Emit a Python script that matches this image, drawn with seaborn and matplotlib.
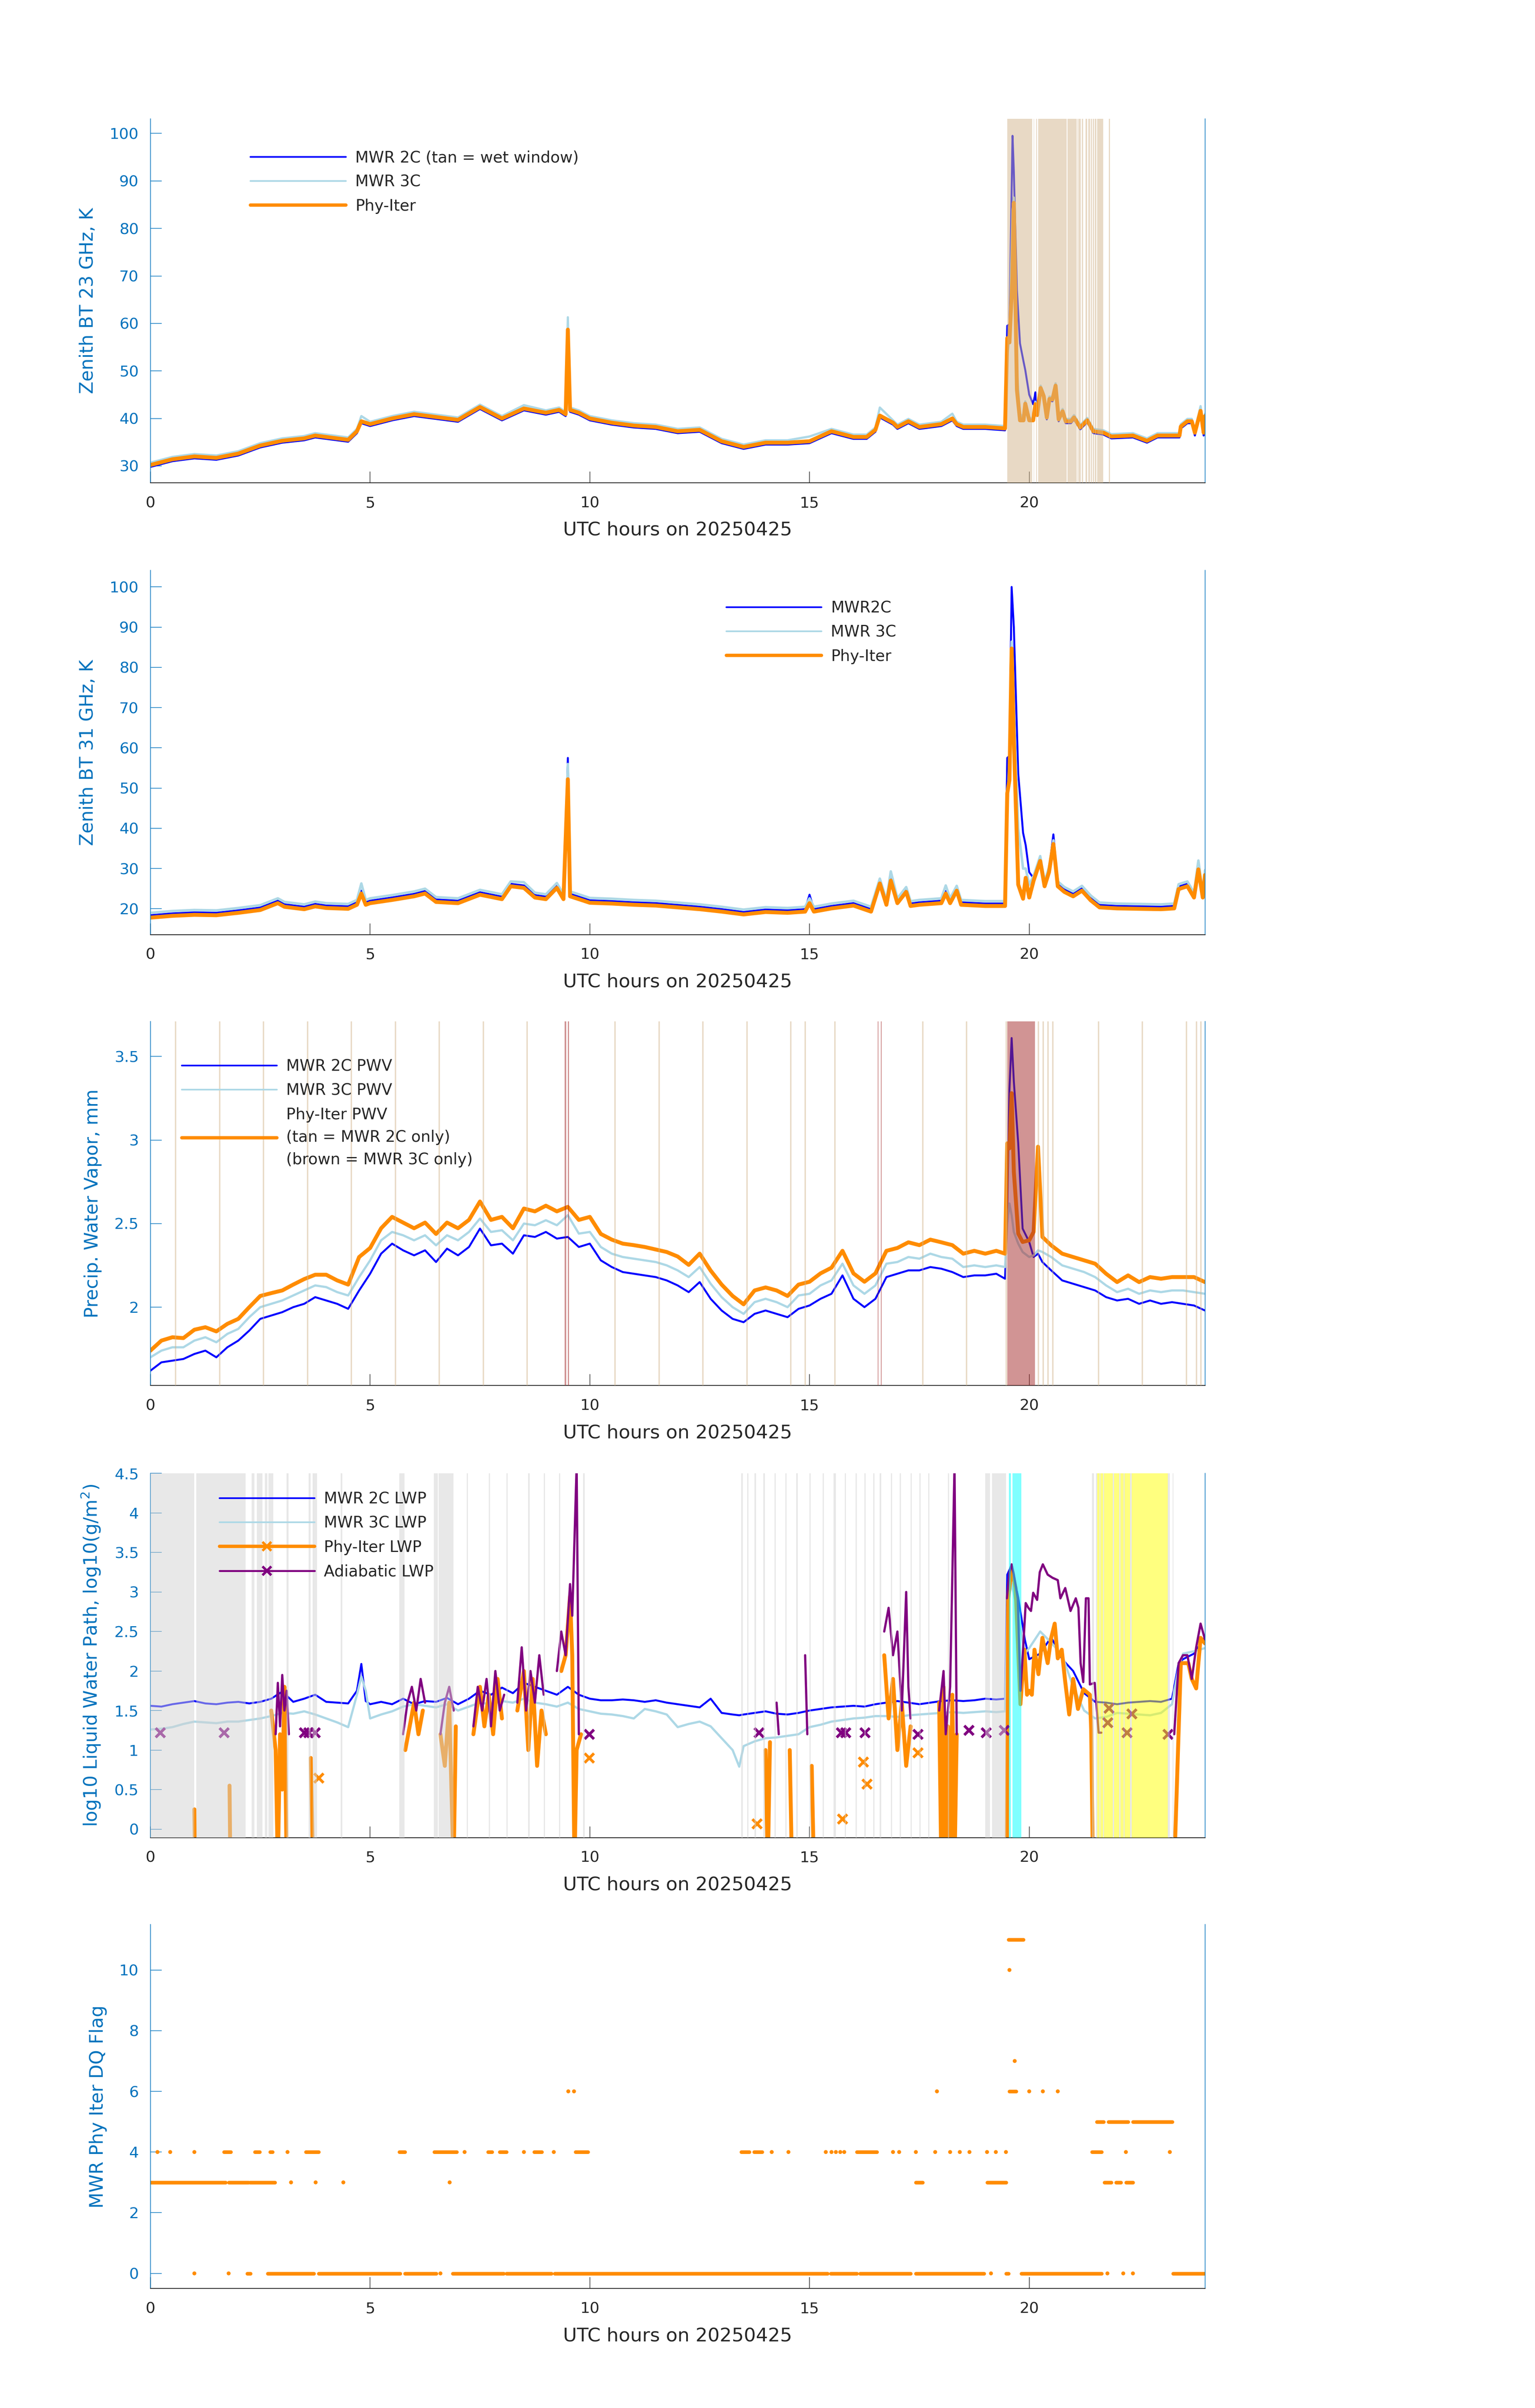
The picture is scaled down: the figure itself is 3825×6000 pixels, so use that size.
import numpy as np
import matplotlib
matplotlib.use("Agg")
import matplotlib.pyplot as plt
from matplotlib.lines import Line2D
import seaborn as sns

sns.set_theme(style="white")
plt.rcParams['font.family'] = ['DejaVu Sans']

nan = np.nan
AXBLUE = '#0072BD'
DARK = '#262626'
C2 = '#0000FF'
C3 = '#ADD8E6'
PHY = '#FF8C00'
ADI = '#800080'

# ---------------- panel 1 : BT 23 GHz ----------------
t23 = [0.0, 0.5, 1.0, 1.5, 2.0, 2.5, 3.0, 3.5, 3.75, 4.0,
       4.5, 4.7, 4.8, 5.0, 5.5, 6.0, 6.5, 7.0, 7.5, 8.0,
       8.5, 9.0, 9.3, 9.45, 9.5, 9.55, 9.75, 10.0, 10.5, 11.0,
       11.5, 12.0, 12.5, 13.0, 13.5, 14.0, 14.5, 15.0, 15.5, 16.0,
       16.3, 16.5, 16.6, 16.9, 17.0, 17.25, 17.5, 18.0, 18.25, 18.35,
       18.5, 19.0, 19.45, 19.5, 19.55, 19.62, 19.65, 19.72, 19.79, 19.87,
       19.91, 20.0, 20.09, 20.14, 20.18, 20.26, 20.33, 20.4, 20.46, 20.53,
       20.6, 20.67, 20.76, 20.83, 20.95, 21.02, 21.16, 21.32, 21.46, 21.69,
       21.87, 22.36, 22.68, 22.92, 23.31, 23.42, 23.45, 23.6, 23.7, 23.77,
       23.9, 23.97, 24.0]
phy23 = [30.2, 31.4, 32.0, 31.7, 32.6, 34.3, 35.3, 35.8, 36.4, 36.1,
         35.5, 37.3, 39.4, 38.8, 40.0, 40.9, 40.3, 39.7, 42.4, 40.0,
         42.1, 41.2, 41.8, 40.9, 58.7, 41.8, 41.2, 40.0, 39.1, 38.5,
         38.2, 37.3, 37.6, 35.2, 34.0, 34.9, 34.9, 35.2, 37.3, 36.1,
         36.1, 37.6, 40.6, 39.1, 38.2, 39.4, 38.2, 38.8, 40.0, 38.8,
         38.2, 38.2, 37.9, 56.9, 56.0, 70.0, 85.4, 46.0, 39.6, 39.6,
         43.1, 39.6, 39.6, 43.0, 40.7, 46.4, 44.7, 40.2, 44.1, 44.0,
         46.9, 39.8, 41.5, 39.4, 39.4, 40.2, 38.1, 39.6, 37.3, 37.0,
         36.2, 36.4, 35.3, 36.4, 36.4, 36.4, 38.3, 39.4, 39.4, 37.0,
         41.6, 37.0, 40.5]
c2_23 = [29.8, 31.0, 31.6, 31.3, 32.2, 33.9, 34.9, 35.4, 36.0, 35.7,
         35.1, 36.9, 39.0, 38.4, 39.6, 40.5, 39.9, 39.3, 42.0, 39.6,
         41.7, 40.8, 41.4, 40.5, 59.5, 41.4, 40.8, 39.6, 38.7, 38.1,
         37.8, 36.9, 37.2, 34.8, 33.6, 34.5, 34.5, 34.8, 36.9, 35.7,
         35.7, 37.2, 40.2, 38.7, 37.8, 39.0, 37.8, 38.4, 39.6, 38.4,
         37.8, 37.8, 37.5, 59.5, 59.8, 99.5, 92.0, 67.0, 55.8, 52.0,
         50.2, 45.0, 43.0, 45.5, 41.0, 46.8, 44.5, 39.8, 43.8, 43.6,
         47.3, 39.4, 41.1, 39.0, 39.0, 39.8, 37.7, 39.2, 36.9, 36.6,
         35.8, 36.0, 34.9, 36.0, 36.0, 36.0, 37.9, 39.0, 39.0, 36.4,
         41.2, 36.4, 40.0]
c3_23 = [30.7, 31.9, 32.5, 32.2, 33.1, 34.8, 35.8, 36.3, 36.9, 36.6,
         36.0, 37.8, 40.5, 39.3, 40.5, 41.4, 40.8, 40.2, 42.9, 40.5,
         42.8, 41.7, 42.3, 41.4, 61.3, 42.3, 41.7, 40.5, 39.6, 39.0,
         38.7, 37.8, 38.1, 35.7, 34.5, 35.4, 35.4, 36.2, 37.8, 36.6,
         36.6, 38.1, 42.3, 39.6, 38.7, 39.9, 38.7, 39.3, 41.0, 39.3,
         38.7, 38.7, 38.4, 53.0, 57.0, 84.0, 86.5, 50.0, 41.0, 40.0,
         43.6, 40.1, 40.1, 43.5, 41.2, 46.9, 45.2, 40.7, 44.6, 44.5,
         47.4, 40.3, 42.0, 39.9, 39.9, 40.7, 38.6, 40.1, 37.8, 37.5,
         36.7, 36.9, 35.8, 36.9, 36.9, 36.9, 38.8, 39.9, 39.9, 37.5,
         42.6, 37.5, 41.0]
wet_start = [19.50, 20.10, 20.16, 20.20, 20.87, 21.10, 21.13, 21.20, 21.28, 21.35, 21.40, 21.45, 21.49, 21.55, 21.81]
wet_end = [20.07, 20.115, 20.18, 20.855, 21.08, 21.115, 21.17, 21.23, 21.32, 21.38, 21.43, 21.47, 21.53, 21.68, 21.84]

# ---------------- panel 2 : BT 31 GHz ----------------
t31 = [0.0, 0.5, 1.0, 1.5, 2.0, 2.5, 2.9, 3.05, 3.5, 3.75,
       4.0, 4.5, 4.7, 4.8, 4.9, 5.0, 5.5, 6.0, 6.25, 6.5,
       7.0, 7.5, 8.0, 8.2, 8.5, 8.75, 9.0, 9.25, 9.4, 9.5,
       9.55, 9.75, 10.0, 10.5, 11.0, 11.5, 12.0, 12.5, 13.0, 13.5,
       14.0, 14.5, 14.9, 15.0, 15.1, 15.5, 16.0, 16.4, 16.6, 16.75,
       16.85, 17.0, 17.2, 17.3, 17.5, 18.0, 18.1, 18.2, 18.35, 18.45,
       19.0, 19.45, 19.5, 19.55, 19.6, 19.65, 19.75, 19.86, 19.92, 20.0,
       20.1, 20.25, 20.35, 20.45, 20.55, 20.65, 20.8, 21.0, 21.2, 21.4,
       21.6, 22.0, 22.5, 23.0, 23.3, 23.4, 23.6, 23.75, 23.85, 23.95,
       24.0]
phy31 = [17.8, 18.25, 18.5, 18.4, 19.0, 19.7, 21.4, 20.5, 19.9, 20.6,
         20.2, 20.0, 21.0, 23.8, 21.0, 21.4, 22.2, 23.1, 23.8, 21.7,
         21.4, 23.5, 22.4, 25.6, 25.2, 22.8, 22.4, 25.2, 22.4, 52.2,
         23.1, 22.4, 21.5, 21.3, 21.0, 20.8, 20.35, 19.9, 19.3, 18.6,
         19.2, 19.0, 19.3, 21.4, 19.3, 20.1, 20.8, 19.3, 26.3, 21.0,
         27.0, 21.4, 24.2, 20.7, 21.0, 21.4, 23.8, 21.4, 24.5, 21.0,
         20.7, 20.7, 48.7, 52.0, 84.7, 62.0, 26.0, 22.5, 27.7, 22.8,
         27.0, 31.9, 25.6, 29.1, 36.1, 25.6, 24.2, 23.1, 24.5, 22.1,
         20.35, 20.1, 20.0, 19.9, 20.1, 24.9, 25.6, 22.8, 29.8, 22.8,
         28.4]
c2_31 = [18.4, 18.85, 19.1, 19.0, 19.6, 20.3, 22.0, 21.1, 20.5, 21.2,
         20.8, 20.6, 21.6, 24.5, 21.6, 22.0, 22.8, 23.7, 24.4, 22.3,
         22.0, 24.1, 23.0, 26.2, 25.8, 23.4, 23.0, 25.8, 23.0, 57.5,
         23.7, 23.0, 22.1, 21.9, 21.6, 21.4, 20.95, 20.5, 19.9, 19.2,
         19.8, 19.6, 19.9, 23.5, 19.9, 20.7, 21.4, 19.9, 26.9, 21.6,
         27.6, 22.0, 24.8, 21.3, 21.6, 22.0, 24.4, 22.0, 25.1, 21.6,
         21.3, 21.3, 57.5, 58.0, 100.0, 90.0, 53.6, 38.9, 35.8, 29.1,
         27.6, 32.5, 26.2, 29.7, 38.5, 26.2, 24.8, 23.7, 25.1, 22.7,
         20.95, 20.7, 20.6, 20.5, 20.7, 25.5, 26.2, 23.4, 31.5, 23.4,
         29.0]
c3_31 = [19.0, 19.45, 19.7, 19.6, 20.2, 20.9, 22.6, 21.7, 21.1, 21.8,
         21.4, 21.2, 22.2, 26.3, 22.2, 22.6, 23.4, 24.3, 25.0, 22.9,
         22.6, 24.7, 23.6, 26.8, 26.6, 24.0, 23.6, 26.4, 23.6, 56.0,
         24.3, 23.6, 22.7, 22.5, 22.2, 22.0, 21.55, 21.1, 20.5, 19.8,
         20.4, 20.2, 20.5, 22.6, 20.5, 21.3, 22.0, 20.5, 27.5, 22.2,
         29.3, 22.6, 25.4, 21.9, 22.2, 22.6, 25.8, 22.6, 25.7, 22.2,
         21.9, 21.9, 45.0, 57.0, 86.4, 70.0, 40.0, 30.0, 30.0, 26.0,
         28.2, 33.1, 26.8, 30.3, 37.0, 26.8, 25.4, 24.3, 25.7, 23.3,
         21.55, 21.3, 21.2, 21.1, 21.3, 26.1, 26.8, 24.0, 32.0, 24.0,
         29.6]

# ---------------- panel 3 : PWV ----------------
tpwv = [0.0, 0.25, 0.5, 0.75, 1.0, 1.25, 1.5, 1.75, 2.0, 2.25,
        2.5, 2.75, 3.0, 3.25, 3.5, 3.75, 4.0, 4.25, 4.5, 4.75,
        5.0, 5.25, 5.5, 5.75, 6.0, 6.25, 6.5, 6.75, 7.0, 7.25,
        7.5, 7.75, 8.0, 8.25, 8.5, 8.75, 9.0, 9.25, 9.5, 9.75,
        10.0, 10.25, 10.5, 10.75, 11.0, 11.25, 11.5, 11.75, 12.0, 12.25,
        12.5, 12.75, 13.0, 13.25, 13.5, 13.75, 14.0, 14.25, 14.5, 14.75,
        15.0, 15.25, 15.5, 15.75, 16.0, 16.25, 16.5, 16.75, 17.0, 17.25,
        17.5, 17.75, 18.0, 18.25, 18.5, 18.75, 19.0, 19.25,
        19.45, 19.5, 19.55, 19.6, 19.65, 19.75, 19.85, 20.0, 20.1, 20.2, 20.3, 20.5,
        20.75, 21.0, 21.25, 21.5, 21.75, 22.0, 22.25, 22.5, 22.75, 23.0, 23.25, 23.5, 23.75, 24.0]
phy_pwv = [1.74, 1.80, 1.82, 1.815, 1.865, 1.88, 1.855, 1.90, 1.93, 2.00,
           2.067, 2.084, 2.10, 2.135, 2.168, 2.194, 2.194, 2.16, 2.135, 2.30,
           2.354, 2.472, 2.54, 2.506, 2.472, 2.506, 2.438, 2.506, 2.472, 2.522,
           2.632, 2.522, 2.54, 2.472, 2.59, 2.573, 2.607, 2.573, 2.60, 2.522,
           2.54, 2.438, 2.404, 2.38, 2.371, 2.36, 2.345, 2.33, 2.303, 2.253,
           2.32, 2.219, 2.135, 2.067, 2.017, 2.10, 2.118, 2.10, 2.067, 2.135,
           2.152, 2.202, 2.236, 2.337, 2.202, 2.152, 2.202, 2.337, 2.354, 2.388,
           2.371, 2.404, 2.388, 2.371, 2.32, 2.337, 2.32, 2.337,
           2.32, 2.98, 2.95, 3.28, 2.81, 2.44, 2.39, 2.40, 2.45, 2.96, 2.42, 2.37,
           2.32, 2.30, 2.28, 2.26, 2.20, 2.15, 2.19, 2.15, 2.18, 2.17, 2.18, 2.18, 2.18, 2.15]
c3_pwv = [1.70, 1.74, 1.76, 1.76, 1.80, 1.82, 1.79, 1.84, 1.87, 1.94,
          2.00, 2.02, 2.04, 2.07, 2.10, 2.13, 2.12, 2.09, 2.07, 2.18,
          2.28, 2.40, 2.45, 2.43, 2.40, 2.43, 2.37, 2.43, 2.40, 2.45,
          2.53, 2.45, 2.46, 2.40, 2.50, 2.49, 2.52, 2.49, 2.55, 2.44,
          2.45, 2.36, 2.32, 2.30, 2.29, 2.28, 2.27, 2.25, 2.22, 2.18,
          2.24, 2.14, 2.06, 2.00, 1.96, 2.03, 2.05, 2.03, 2.00, 2.07,
          2.08, 2.13, 2.16, 2.26, 2.13, 2.08, 2.13, 2.26, 2.27, 2.30,
          2.29, 2.32, 2.30, 2.29, 2.24, 2.25, 2.24, 2.25,
          2.24, 2.50, 2.62, 2.55, 2.45, 2.38, 2.33, 2.30, 2.31, 2.34, 2.33, 2.30,
          2.25, 2.23, 2.21, 2.18, 2.13, 2.09, 2.11, 2.08, 2.10, 2.09, 2.10, 2.10, 2.09, 2.08]
c2_pwv = [1.62, 1.67, 1.68, 1.69, 1.72, 1.74, 1.70, 1.76, 1.80, 1.86,
          1.93, 1.95, 1.97, 2.00, 2.02, 2.06, 2.04, 2.02, 1.99, 2.10,
          2.20, 2.32, 2.38, 2.34, 2.31, 2.34, 2.27, 2.35, 2.31, 2.36,
          2.47, 2.37, 2.38, 2.32, 2.43, 2.42, 2.45, 2.41, 2.42, 2.36,
          2.38, 2.28, 2.24, 2.21, 2.20, 2.19, 2.18, 2.16, 2.13, 2.09,
          2.15, 2.05, 1.98, 1.93, 1.91, 1.96, 1.98, 1.96, 1.94, 1.99,
          2.01, 2.05, 2.08, 2.19, 2.05, 2.00, 2.05, 2.18, 2.20, 2.22,
          2.22, 2.24, 2.23, 2.21, 2.18, 2.19, 2.19, 2.20,
          2.17, 2.60, 3.30, 3.61, 3.35, 2.98, 2.47, 2.39, 2.30, 2.32, 2.27, 2.22,
          2.16, 2.14, 2.12, 2.10, 2.06, 2.04, 2.05, 2.02, 2.04, 2.02, 2.03, 2.02, 2.01, 1.98]
only2c_times = [0.57, 1.57, 2.57, 3.57, 4.57, 5.57, 6.57, 7.57, 8.57, 10.57, 11.57, 12.57, 13.57,
                14.57, 14.9, 15.57, 17.57, 18.57, 19.47, 20.2, 20.31, 20.42, 20.53, 21.57,
                22.57, 23.57, 23.8, 23.9]
only3c_start = [9.43, 9.50, 16.55, 16.62, 19.50]
only3c_end = [9.46, 9.53, 16.57, 16.64, 20.13]

# ---------------- panel 4 : LWP ----------------
tlwp = [0.0, 0.25, 0.5, 0.75, 1.0, 1.25, 1.5, 1.75, 2.0, 2.25,
        2.5, 2.75, 3.0, 3.25, 3.5, 3.75, 4.0, 4.25, 4.5, 4.7,
        4.8, 4.9, 5.0, 5.25, 5.5, 5.75, 6.0, 6.25, 6.5, 6.75,
        7.0, 7.25, 7.5, 7.75, 8.0, 8.25, 8.5, 8.75, 9.0, 9.25,
        9.5, 9.75, 10.0, 10.25, 10.5, 10.75, 11.0, 11.25, 11.5, 11.75,
        12.0, 12.25, 12.5, 12.75, 13.0, 13.25, 13.4, 13.5, 13.75, 14.0,
        14.25, 14.5, 14.75, 15.0, 15.25, 15.5, 15.75, 16.0, 16.25, 16.5,
        16.75, 17.0, 17.25, 17.5, 17.75, 18.0, 18.25, 18.5, 18.75, 19.0,
        19.25, 19.45, 19.5, 19.6, 19.75, 19.9, 20.0, 20.25, 20.5, 20.75,
        21.0, 21.25, 21.5, 21.75, 22.0, 22.25, 22.5, 22.75, 23.0, 23.25,
        23.4, 23.5, 23.75, 24.0]
c2_lwp = [1.56, 1.55, 1.58, 1.60, 1.62, 1.59, 1.58, 1.60, 1.61, 1.59,
          1.61, 1.65, 1.74, 1.61, 1.65, 1.70, 1.61, 1.60, 1.59, 1.75,
          2.09, 1.62, 1.58, 1.61, 1.58, 1.65, 1.58, 1.62, 1.61, 1.66,
          1.58, 1.65, 1.75, 1.70, 1.79, 1.72, 1.85, 1.80, 1.75, 1.70,
          1.80, 1.70, 1.65, 1.63, 1.63, 1.64, 1.63, 1.61, 1.63, 1.60,
          1.58, 1.56, 1.54, 1.65, 1.47, 1.45, 1.44, 1.45, 1.47, 1.49,
          1.46, 1.45, 1.47, 1.50, 1.52, 1.54, 1.55, 1.56, 1.55, 1.58,
          1.60, 1.62, 1.60, 1.58, 1.60, 1.62, 1.63, 1.62, 1.63, 1.65,
          1.64, 1.65, 3.22, 3.34, 2.93, 2.40, 2.15, 2.22, 2.43, 2.15,
          2.00, 1.72, 1.61, 1.60, 1.58, 1.60, 1.61, 1.62, 1.61, 1.65,
          2.10, 2.15, 2.22, 2.43]
c3_lwp = [1.26, 1.27, 1.29, 1.33, 1.36, 1.35, 1.34, 1.36, 1.36, 1.38,
          1.40, 1.43, 1.47, 1.46, 1.49, 1.45, 1.40, 1.35, 1.29, 1.70,
          1.93, 1.75, 1.40, 1.45, 1.49, 1.55, 1.58, 1.56, 1.54, 1.58,
          1.50, 1.55, 1.60, 1.58, 1.62, 1.60, 1.65, 1.60, 1.58, 1.55,
          1.60, 1.52, 1.49, 1.46, 1.45, 1.43, 1.40, 1.52, 1.49, 1.45,
          1.29, 1.33, 1.36, 1.30, 1.15, 1.00, 0.79, 1.05, 1.11, 1.15,
          1.16, 1.18, 1.20, 1.29, 1.32, 1.36, 1.38, 1.40, 1.41, 1.43,
          1.43, 1.42, 1.44, 1.45, 1.46, 1.47, 1.48, 1.47, 1.48, 1.49,
          1.48, 1.49, 2.80, 3.11, 2.72, 2.22, 2.29, 2.50, 2.36, 2.20,
          1.80, 1.50, 1.40, 1.42, 1.47, 1.46, 1.45, 1.44, 1.47, 1.58,
          2.05, 2.22, 2.25, 2.29]
# Phy-Iter LWP: nan = no retrieval, -0.5 = zero LWP (log10 below the axis)
phy_lwp_t = [0.95, 1.0, 1.02, 1.05,
             1.75, 1.8, 1.82, 1.85,
             2.7, 2.75, 2.85, 2.9, 2.95, 3.0, 3.05, 3.1, 3.15,
             3.6, 3.65, 3.7, 3.75,
             5.75, 5.8, 5.9, 6.0, 6.1, 6.2, 6.3,
             6.55, 6.6, 6.7, 6.8, 6.85, 6.9, 6.95, 7.0,
             7.3, 7.35, 7.5, 7.6, 7.7, 7.8, 7.9, 8.0, 8.1,
             8.3, 8.35, 8.5, 8.6, 8.7, 8.8, 8.9, 9.0, 9.1,
             9.3, 9.35, 9.45, 9.55, 9.6, 9.65, 9.7, 9.8, 9.85,
             13.95, 14.0, 14.05, 14.1, 14.2,
             14.5, 14.55, 14.6, 14.65,
             15.0, 15.05, 15.1, 15.15,
             16.65, 16.7, 16.8, 16.9, 17.0, 17.1, 17.2, 17.3, 17.4,
             17.9, 17.95, 18.0, 18.05, 18.1, 18.15, 18.2, 18.25, 18.3, 18.35, 18.4,
             19.45, 19.49, 19.52, 19.6, 19.69, 19.8, 19.89, 19.95, 20.0, 20.06,
             20.12, 20.21, 20.3, 20.42, 20.5, 20.58, 20.65, 20.74, 20.82, 20.91,
             21.0, 21.11, 21.23, 21.38, 21.41, 21.45, 21.6, 21.65,
             23.25, 23.3, 23.45, 23.62, 23.7, 23.8, 23.9, 24.0]
phy_lwp_v = [nan, 0.25, -0.5, nan,
             nan, 0.55, -0.5, nan,
             nan, 1.5, 1.0, -0.5, 1.2, 0.5, 1.8, -0.5, nan,
             nan, 0.9, -0.5, nan,
             nan, 1.0, 1.3, 1.6, 1.2, 1.5, nan,
             nan, 1.2, 0.8, 1.6, 0.5, -0.5, 1.3, nan,
             nan, 1.2, 1.8, 1.3, 1.7, 1.2, 1.9, 1.4, nan,
             nan, 1.5, 2.0, 1.0, 1.9, 0.8, 1.5, 1.2, nan,
             nan, 2.0, 2.2, 2.95, 2.2, -0.5, 1.0, 1.2, nan,
             nan, 1.0, -0.5, 1.1, nan,
             nan, 1.0, -0.5, nan,
             nan, 0.8, -0.5, nan,
             nan, 2.2, 1.4, 1.9, 1.0, 1.6, 0.8, 1.3, nan,
             nan, 1.6, -0.5, 1.8, -0.5, 1.3, -0.5, 1.7, -0.5, 1.2, nan,
             nan, -0.5, 2.92, 3.29, 3.05, 1.58, 2.27, 1.7, 1.75, 1.7,
             2.27, 1.96, 2.42, 2.1, 2.42, 2.6, 2.16, 2.27, 1.86, 1.45,
             1.9, 1.52, 1.77, 1.7, 1.26, -0.5, -0.5, nan,
             nan, -0.5, 2.1, 2.1, 1.9, 1.78, 2.42, 2.35]
adi_lwp_t = [2.8, 2.85, 2.9, 2.95, 3.0, 3.05, 3.1, 3.15,
             5.7, 5.75, 5.85, 5.95, 6.05, 6.15, 6.25,
             6.3, 6.6, 6.7, 6.8, 6.9,
             7.0, 7.35, 7.45, 7.55, 7.65, 7.75, 7.85, 7.95, 8.05,
             8.1, 8.35, 8.45, 8.55, 8.65, 8.75, 8.85, 8.95,
             9.05, 9.25, 9.35, 9.45, 9.55, 9.6, 9.7, 9.75,
             9.8, 14.25, 14.3,
             14.35, 14.9, 14.95,
             15.0, 16.7, 16.8, 16.9, 17.0, 17.1, 17.2, 17.25, 17.3,
             17.35, 17.95, 18.05, 18.1, 18.2, 18.3, 18.35,
             18.4, 19.49, 19.55, 19.6, 19.65, 19.74, 19.8, 19.86, 19.92, 19.98,
             20.04, 20.09, 20.18, 20.24, 20.31, 20.42, 20.53, 20.65, 20.71, 20.82,
             20.94, 21.06, 21.12, 21.17, 21.23, 21.29, 21.35, 21.38, 21.49, 21.58, 21.64,
             21.7, 23.3, 23.4, 23.5, 23.6, 23.7, 23.8, 23.9, 24.0]
adi_lwp_v = [nan, 1.2, 1.85, 1.3, 1.95, 1.5, 1.75, 1.2,
             nan, 1.2, 1.6, 1.8, 1.5, 1.9, 1.6,
             nan, 1.2, 1.6, 1.8, 1.5,
             nan, 1.3, 1.8, 1.5, 1.9, 1.3, 2.0, 1.5, 1.7,
             nan, 1.6, 2.3, 1.5, 2.0, 1.6, 2.2, 1.7,
             nan, 2.0, 2.5, 2.2, 3.1, 2.7, 4.6, 1.2,
             nan, 1.6, 1.2,
             nan, 2.2, 1.2,
             nan, 2.5, 2.8, 2.2, 2.5, 1.5, 3.0, 1.8, 1.4,
             nan, 1.5, 2.0, 1.2, 1.8, 4.6, 1.2,
             nan, 2.92, 3.25, 3.35, 3.22, 2.92, 1.75, 2.27, 2.86, 2.8,
             2.76, 2.99, 2.9, 3.25, 3.35, 3.22, 3.18, 3.15, 2.92, 3.05,
             2.76, 2.92, 2.8, 2.1, 1.86, 2.92, 2.92, 1.83, 1.85, 1.22, 1.22,
             nan, 1.2, 2.1, 2.2, 2.2, 1.9, 2.3, 2.6, 2.4]
adi_mark_t = [0.22, 1.67, 3.5, 3.6, 3.75, 9.98, 13.85, 15.72, 15.82, 16.26, 17.46,
              18.62, 19.02, 19.43, 21.78, 21.81, 22.22, 22.33, 23.15]
adi_mark_v = [1.22, 1.22, 1.22, 1.22, 1.22, 1.2, 1.22, 1.22, 1.22, 1.22, 1.2,
              1.25, 1.22, 1.25, 1.35, 1.53, 1.22, 1.46, 1.2]
phy_mark_t = [3.83, 9.98, 13.8, 15.75, 16.22, 16.3, 17.46]
phy_mark_v = [0.65, 0.9, 0.07, 0.13, 0.85, 0.57, 0.97]
cloud_start = [0.0, 1.04, 2.3, 2.42, 2.6, 2.69, 3.1, 3.6, 3.69, 4.33, 5.66, 6.45, 6.56, 7.2, 7.7,
               8.1, 8.6, 8.95, 9.3, 9.85, 13.45, 13.58, 13.75, 13.95, 14.2, 14.45, 14.7, 15.0,
               15.3, 15.55, 15.8, 16.05, 16.25, 16.45, 16.6, 16.85, 17.05, 17.3, 17.5, 17.7,
               18.15, 19.0, 19.15, 21.43, 21.52, 21.6, 21.68, 21.9, 22.05, 22.15, 22.3, 23.15, 23.26]
cloud_end = [1.0, 2.17, 2.37, 2.55, 2.66, 2.8, 3.14, 3.65, 3.79, 4.37, 5.78, 6.54, 6.9, 7.23, 7.73,
             8.13, 8.63, 8.98, 9.33, 9.88, 13.48, 13.61, 13.78, 13.98, 14.23, 14.48, 14.73, 15.03,
             15.33, 15.6, 15.83, 16.08, 16.28, 16.48, 16.63, 16.88, 17.08, 17.33, 17.53, 17.73,
             18.18, 19.11, 19.47, 21.47, 21.55, 21.62, 21.7, 21.93, 22.08, 22.17, 22.33, 23.2, 23.28]
rain_start = [19.54, 19.62]
rain_end = [19.58, 19.82]
ice_start = [21.55, 21.62, 21.7, 21.93, 22.08, 22.17, 22.33]
ice_end = [21.6, 21.68, 21.9, 22.05, 22.15, 22.3, 23.15]

# ---------------- panel 5 : DQ flag ----------------
dq_run_flag = [0, 0, 0, 0, 0, 0, 0, 0, 0, 0, 0, 0, 0,
               3, 3, 3, 3, 3, 3, 3, 3,
               4, 4, 4, 4, 4, 4, 4, 4, 4, 4, 4, 4, 4, 4,
               5, 5, 5, 6, 11]
dq_run_start = [2.2, 2.67, 3.83, 5.79, 6.88, 8.1, 9.2, 15.48, 16.15, 17.42, 19.47, 19.82, 23.27,
                0.0, 1.78, 2.27, 17.42, 19.04, 21.71, 21.98, 22.2,
                1.67, 2.38, 2.72, 3.54, 5.66, 6.46, 7.68, 7.95, 8.73, 9.67, 13.45, 13.74, 16.08, 21.43,
                21.54, 21.8, 22.36, 19.55, 19.53]
dq_run_end = [2.28, 3.72, 5.68, 6.5, 8.04, 9.13, 15.41, 16.08, 17.3, 18.97, 19.53, 21.65, 24.0,
              1.71, 2.23, 2.83, 17.57, 19.47, 21.87, 22.09, 22.36,
              1.83, 2.49, 2.78, 3.83, 5.79, 6.97, 7.77, 8.1, 8.91, 9.96, 13.63, 13.92, 16.53, 21.65,
              21.69, 22.25, 23.25, 19.7, 19.87]
dq_pt_t = [1.0, 1.78, 6.6, 19.13, 21.78, 22.14, 22.36,
           3.2, 3.76, 4.39, 6.81,
           0.16, 0.45, 1.0, 3.12, 7.15, 8.5, 9.18, 14.14, 14.52, 15.37, 15.5, 15.6, 15.7, 15.79,
           16.9, 17.04, 17.42, 17.86, 18.2, 18.42, 18.64, 19.04, 19.24, 19.47, 22.2, 23.2,
           9.51, 9.64, 17.9, 20.0, 20.31, 20.65,
           19.67, 19.55]
dq_pt_flag = [0, 0, 0, 0, 0, 0, 0,
              3, 3, 3, 3,
              4, 4, 4, 4, 4, 4, 4, 4, 4, 4, 4, 4, 4, 4,
              4, 4, 4, 4, 4, 4, 4, 4, 4, 4, 4, 4,
              6, 6, 6, 6, 6, 6,
              7, 10]

xtick_vals = [0, 5, 10, 15, 20]
xlab = 'UTC hours on 20250425'

fig = plt.figure(figsize=(38.25, 60), dpi=100)
left, width, height = 0.098, 0.687, 0.1512
bottoms = [0.7995, 0.6119, 0.4246, 0.2369, 0.0496]
axs = [fig.add_axes([left, b, width, height]) for b in bottoms]


def style_axis(ax, ylim, yticks, ylabel):
    ax.set_facecolor('white')
    ax.set_xlim(0, 24)
    ax.set_ylim(*ylim)
    ax.set_xticks(xtick_vals)
    ax.set_xticklabels([str(v) for v in xtick_vals])
    ax.set_yticks(yticks)
    ax.set_yticklabels([f'{v:g}' for v in yticks])
    ax.tick_params(axis='y', direction='in', length=20, width=1.1, colors=AXBLUE,
                   labelsize=27.5, pad=21, left=True, right=False)
    ax.tick_params(axis='x', direction='in', length=20, width=1.1, colors=DARK,
                   labelsize=27.5, pad=24, bottom=True, top=False)
    ax.spines['top'].set_visible(False)
    for s in ['left', 'right']:
        ax.spines[s].set_color(AXBLUE)
        ax.spines[s].set_linewidth(1.1)
    ax.spines['bottom'].set_color(DARK)
    ax.spines['bottom'].set_linewidth(1.5)
    ax.set_xlabel(xlab, fontsize=34, color=DARK, labelpad=19)
    ax.set_ylabel(ylabel, fontsize=33, color=AXBLUE, labelpad=22)


def line(ax, x, y, color, lw, z=2):
    sns.lineplot(x=x, y=y, ax=ax, color=color, linewidth=lw, estimator=None,
                 sort=False, legend=False, zorder=z)


def put_legend(ax, handles, labels, anchor):
    leg = ax.legend(handles, labels, loc='upper left', bbox_to_anchor=anchor,
                    frameon=False, fontsize=28, handlelength=6.1, handletextpad=0.6,
                    labelspacing=0.57, borderpad=0, borderaxespad=0, numpoints=1)
    leg.set_zorder(6)
    return leg


# panel 1
ax = axs[0]
line(ax, t23, c2_23, C2, 3.5)
line(ax, t23, c3_23, C3, 4)
line(ax, t23, phy23, PHY, 7)
for a, b in zip(wet_start, wet_end):
    ax.axvspan(a, b, color='tan', alpha=0.5, lw=0, zorder=3)
style_axis(ax, (26.45, 103.1), [30, 40, 50, 60, 70, 80, 90, 100], 'Zenith BT 23 GHz, K')
put_legend(ax, [Line2D([], [], color=C2, lw=3), Line2D([], [], color=C3, lw=3),
                Line2D([], [], color=PHY, lw=6)],
           ['MWR 2C (tan = wet window)', 'MWR 3C', 'Phy-Iter'], (0.095, 0.913))

# panel 2
ax = axs[1]
line(ax, t31, c2_31, C2, 3.5)
line(ax, t31, c3_31, C3, 4.5)
line(ax, t31, phy31, PHY, 7)
style_axis(ax, (13.6, 104.1), [20, 30, 40, 50, 60, 70, 80, 90, 100], 'Zenith BT 31 GHz, K')
put_legend(ax, [Line2D([], [], color=C2, lw=3), Line2D([], [], color=C3, lw=3),
                Line2D([], [], color=PHY, lw=6)],
           ['MWR2C', 'MWR 3C', 'Phy-Iter'], (0.546, 0.917))

# panel 3
ax = axs[2]
line(ax, tpwv, c2_pwv, C2, 3.5)
line(ax, tpwv, c3_pwv, C3, 4)
line(ax, tpwv, phy_pwv, PHY, 7)
for tt in only2c_times:
    ax.axvline(tt, color='tan', alpha=0.5, lw=2.5, zorder=3)
for a, b in zip(only3c_start, only3c_end):
    ax.axvspan(a, b, color='brown', alpha=0.5, lw=0, zorder=3)
style_axis(ax, (1.531, 3.709), [2, 2.5, 3, 3.5], 'Precip. Water Vapor, mm')
leg = put_legend(ax, [Line2D([], [], color=C2, lw=3), Line2D([], [], color=C3, lw=3),
                      Line2D([], [], color=PHY, lw=6)],
                 ['MWR 2C PWV', 'MWR 3C PWV',
                  'Phy-Iter PWV\n(tan = MWR 2C only)\n(brown = MWR 3C only)'], (0.0297, 0.897))
leg.get_texts()[2].set_linespacing(1.6)

# panel 4
ax = axs[3]
line(ax, tlwp, c2_lwp, C2, 3.5)
line(ax, tlwp, c3_lwp, C3, 4)
ax.plot(phy_lwp_t, phy_lwp_v, color=PHY, lw=7, zorder=2)
ax.plot(adi_lwp_t, adi_lwp_v, color=ADI, lw=4, zorder=2)
sns.scatterplot(x=adi_mark_t, y=adi_mark_v, ax=ax, marker='x', s=280, color=ADI,
                linewidth=5, legend=False, zorder=2)
sns.scatterplot(x=phy_mark_t, y=phy_mark_v, ax=ax, marker='x', s=280, color=PHY,
                linewidth=5, legend=False, zorder=2)
for a, b in zip(cloud_start, cloud_end):
    ax.axvspan(a, b, color='lightgrey', alpha=0.5, lw=0, zorder=3)
for a, b in zip(rain_start, rain_end):
    ax.axvspan(a, b, color='cyan', alpha=0.5, lw=0, zorder=3)
for a, b in zip(ice_start, ice_end):
    ax.axvspan(a, b, color='yellow', alpha=0.5, lw=0, zorder=3)
style_axis(ax, (-0.107, 4.5), [0, 0.5, 1, 1.5, 2, 2.5, 3, 3.5, 4, 4.5],
           'log10 Liquid Water Path, log10(g/m$^2$)')
put_legend(ax, [Line2D([], [], color=C2, lw=3), Line2D([], [], color=C3, lw=3),
                Line2D([], [], color=PHY, lw=6, marker='x', ms=16, mew=4.5),
                Line2D([], [], color=ADI, lw=3.5, marker='x', ms=16, mew=4.5)],
           ['MWR 2C LWP', 'MWR 3C LWP', 'Phy-Iter LWP', 'Adiabatic LWP'], (0.0654, 0.95))

# panel 5
ax = axs[4]
lc = ax.hlines(dq_run_flag, dq_run_start, dq_run_end, colors=PHY, linewidth=6.5, zorder=2)
lc.set_capstyle('round')
sns.scatterplot(x=dq_pt_t, y=dq_pt_flag, ax=ax, color=PHY, s=50, edgecolor='none',
                legend=False, zorder=2)
style_axis(ax, (-0.5, 11.5), [0, 2, 4, 6, 8, 10], 'MWR Phy Iter DQ Flag')

fig.savefig('out.png', dpi=100, facecolor='white')
